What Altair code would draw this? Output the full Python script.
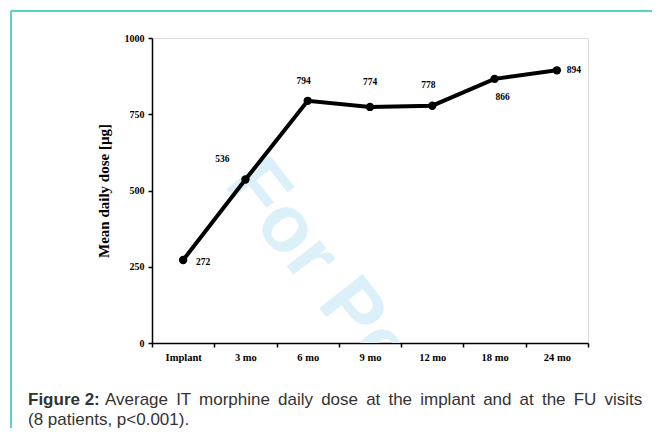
import altair as alt
import pandas as pd

categories = ["Implant", "3 mo", "6 mo", "9 mo", "12 mo", "18 mo", "24 mo"]
values = [272, 536, 794, 774, 778, 866, 894]
y_ticks = [0, 250, 500, 750, 1000]

df = pd.DataFrame({"visit": categories, "dose": values})

SERIF = "Liberation Serif"
x_enc = alt.X("visit:N", sort=categories,
              scale=alt.Scale(type="band", paddingInner=0, paddingOuter=0),
              axis=alt.Axis(title=None, labelAngle=0, tickBand="extent", domainColor="black",
                            tickColor="black", tickSize=4, domainWidth=1.5, tickWidth=1.5,
                            labelFont=SERIF, labelFontWeight="bold", labelFontSize=10.5,
                            labelColor="black", labelPadding=5))
y_enc = alt.Y("dose:Q", scale=alt.Scale(domain=[0, 1000], nice=False),
              axis=alt.Axis(values=y_ticks, title="Mean daily dose [µg]", format="d",
                            grid=False, domainColor="black", tickColor="black", tickSize=4,
                            domainWidth=1.5, tickWidth=1.5,
                            labelFont=SERIF, labelFontWeight="bold", labelFontSize=10,
                            labelColor="black", labelPadding=4,
                            titleFont=SERIF, titleFontWeight="bold", titleFontSize=15,
                            titleColor="black", titlePadding=13))

base = alt.Chart(df)

watermark = alt.Chart(pd.DataFrame({"t": ["For Peer Review"]})).mark_text(
    font="Liberation Sans", fontWeight="bold", fontSize=80, color="#dcf0fa",
    angle=52, align="left", baseline="middle", clip=True
).encode(x=alt.value(90), y=alt.value(132), text="t:N")

line = base.mark_line(color="black", strokeWidth=4).encode(x=x_enc, y=y_enc)
pts = base.mark_point(filled=True, color="black", size=70, opacity=1).encode(x=x_enc, y=y_enc)

label_offsets = {
    "Implant": (20, 2), "3 mo": (-23, -21), "6 mo": (-4, -20), "9 mo": (0, -25),
    "12 mo": (-4, -21), "18 mo": (8, 18), "24 mo": (17, 0),
}
labels = []
for cat, (dx, dy) in label_offsets.items():
    labels.append(
        base.transform_filter(alt.datum.visit == cat).mark_text(
            font=SERIF, fontWeight="bold", fontSize=9.5, color="black", dx=dx, dy=dy
        ).encode(x=x_enc, y=y_enc, text="dose:Q")
    )

border_color = "#58d4c0"
border_left = alt.Chart(df).mark_rule(color=border_color, strokeWidth=2).encode(
    x=alt.value(-141), y=alt.value(-27), y2=alt.value(400))
border_top = alt.Chart(df).mark_rule(color=border_color, strokeWidth=2).encode(
    x=alt.value(-141), x2=alt.value(520), y=alt.value(-27))

SP = " \u2009"
line1_rest = SP.join("Average IT morphine daily dose at the implant and at the FU visits".split(" "))

cap_bold = alt.Chart(pd.DataFrame({"t": ["Figure 2:"]})).mark_text(
    font="Liberation Sans", fontWeight="bold", fontSize=17, color="#333333",
    align="left", baseline="alphabetic"
).encode(x=alt.value(-124), y=alt.value(367), text="t:N")
cap_rest = alt.Chart(pd.DataFrame({"t": [line1_rest]})).mark_text(
    font="Liberation Sans", fontSize=17, color="#333333", align="left", baseline="alphabetic"
).encode(x=alt.value(-47), y=alt.value(367), text="t:N")
cap_line2 = alt.Chart(pd.DataFrame({"t": ["(8 patients, p<0.001)."]})).mark_text(
    font="Liberation Sans", fontSize=17, color="#333333", align="left", baseline="alphabetic"
).encode(x=alt.value(-124), y=alt.value(387), text="t:N")

chart = alt.layer(
    watermark, line, pts, *labels, border_left, border_top, cap_bold, cap_rest, cap_line2
).properties(
    width=436, height=305,
    autosize=alt.AutoSizeParams(type="none"),
    padding={"left": 144, "top": 30, "right": 64, "bottom": 85},
).configure_view(stroke=None).configure(background="white")

chart.save("out.html", embed_options={"renderer": "svg", "actions": False})
